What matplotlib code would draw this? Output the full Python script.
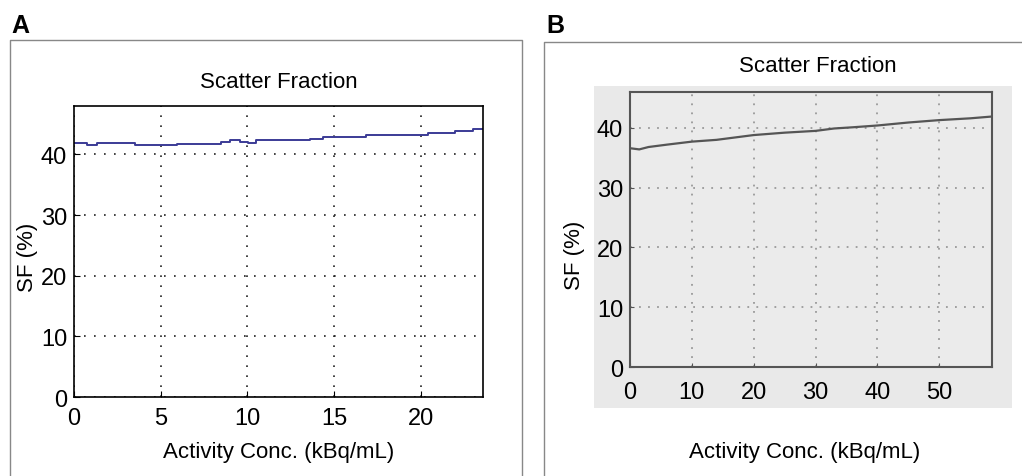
import matplotlib
matplotlib.use("Agg")
import matplotlib.pyplot as plt
from matplotlib.lines import Line2D
from matplotlib.patches import Rectangle

plt.rcParams['font.family'] = ['Liberation Sans', 'DejaVu Sans']

# panel A: step-like scatter fraction curve
a_x = [0, 0.73, 1.31, 3.52, 5.92, 8.51, 9.0, 9.57, 10.05, 10.53, 13.6, 14.37, 16.87, 20.42, 21.96, 23.02, 23.59]
a_y = [41.93, 41.49, 41.82, 41.49, 41.76, 42.1, 42.42, 42.03, 41.93, 42.31, 42.59, 42.92, 43.25, 43.52, 43.85, 44.13, 44.13]
a_xticks = [0, 5, 10, 15, 20]
a_yticks = [0, 10, 20, 30, 40]

# panel B: near-linear curve
b_x = [0, 1.5, 3, 6, 10, 14, 17, 20, 25, 30, 33, 36, 40, 45, 50, 55, 58.5]
b_y = [36.6, 36.4, 36.8, 37.2, 37.7, 38.0, 38.4, 38.8, 39.2, 39.5, 39.9, 40.1, 40.4, 40.9, 41.3, 41.6, 41.9]
b_xticks = [0, 10, 20, 30, 40, 50]
b_yticks = [0, 10, 20, 30, 40]

title = "Scatter Fraction"
xlab = "Activity Conc. (kBq/mL)"
ylab = "SF (%)"
fs = 16
tfs = 17

fig = plt.figure(figsize=(10.22, 4.77), dpi=100)

# panel frames
fig.add_artist(Line2D([0.0098, 0.0098, 0.5108, 0.5108], [0, 0.914, 0.914, 0], color='#888888', lw=1))
fig.add_artist(Line2D([0.5323, 0.5323, 1.0], [0, 0.9099, 0.9099], color='#888888', lw=1))
fig.text(0.011, 0.931, "A", fontsize=18, fontweight='bold', va='baseline')
fig.text(0.535, 0.931, "B", fontsize=18, fontweight='bold', va='baseline')

# ---- A
ax = fig.add_axes([0.0724, 0.1656, 0.4002, 0.6101])
ax.plot(a_x, a_y, drawstyle='steps-post', color='#3b3b96', lw=1.4)
ax.set_xlim(0, 23.6)
ax.set_ylim(0, 48)
ax.set_xticks(a_xticks)
ax.set_yticks(a_yticks)
ax.grid(True, color='#222222', linestyle=(0, (1, 5)), lw=1.2)
ax.tick_params(direction='in', length=4, labelsize=tfs)
ax.tick_params(axis='x', pad=7)
ax.tick_params(axis='y', pad=5)
for s in ax.spines.values():
    s.set_linewidth(1.2)
fig.text(0.2725, 0.826, title, fontsize=fs, ha='center', va='center')
fig.text(0.2725, 0.052, xlab, fontsize=fs, ha='center', va='center')
fig.text(0.027, 0.46, ylab, fontsize=fs, ha='center', va='center', rotation=90)

# ---- B
fig.add_artist(Rectangle((0.5812, 0.1426), 0.409, 0.675, transform=fig.transFigure,
                         facecolor='#e9e9e9', edgecolor='none', zorder=-1))
bx = fig.add_axes([0.6164, 0.2285, 0.3542, 0.5765])
bx.set_facecolor('#ebebeb')
bx.plot(b_x, b_y, color='#555555', lw=1.6)
bx.set_xlim(0, 58.5)
bx.set_ylim(0, 46)
bx.set_xticks(b_xticks)
bx.set_yticks(b_yticks)
bx.grid(True, color='#9a9a9a', linestyle=(0, (1, 4)), lw=1.3)
bx.tick_params(direction='in', length=3, labelsize=tfs, color='#555555')
bx.tick_params(axis='x', pad=10)
bx.tick_params(axis='y', pad=5)
for s in bx.spines.values():
    s.set_linewidth(1.5)
    s.set_color('#555555')
fig.text(0.8, 0.86, title, fontsize=fs, ha='center', va='center')
fig.text(0.787, 0.052, xlab, fontsize=fs, ha='center', va='center')
fig.text(0.562, 0.465, ylab, fontsize=fs, ha='center', va='center', rotation=90)

fig.savefig("out.png", dpi=100)
